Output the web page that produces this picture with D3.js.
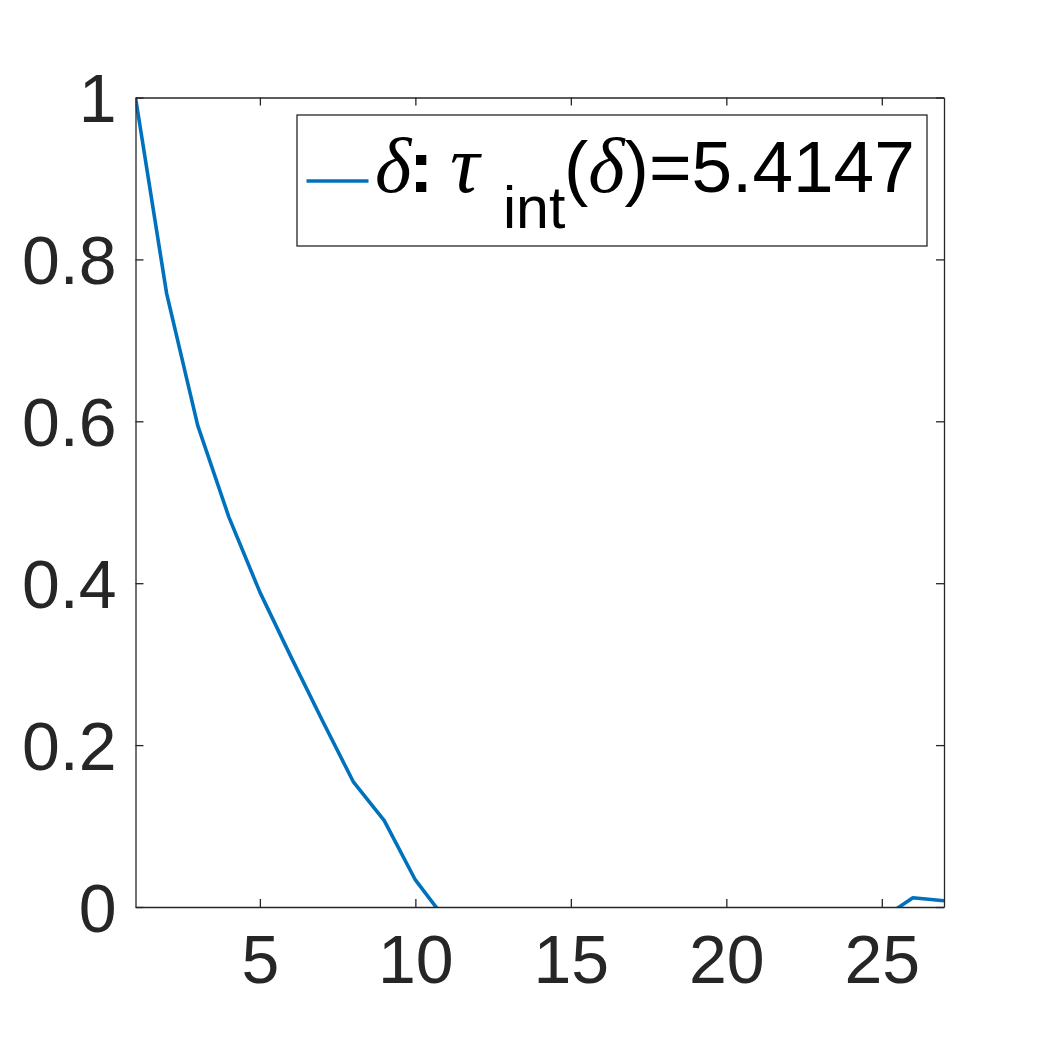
<!DOCTYPE html>
<html>
<head>
<meta charset="utf-8">
<script src="https://cdn.jsdelivr.net/npm/d3@7"></script>
<style>
html,body{margin:0;padding:0;background:#fff;}
svg{display:block;}
</style>
</head>
<body>
<svg id="chart" width="1043" height="1042"></svg>
<script>
// Data
const lags = [1,2,3,4,5,6,7,8,9,10,11,12,13,14,15,16,17,18,19,20,21,22,23,24,25,26,27];
const acf  = [1.0,0.758,0.595,0.482,0.389,0.309,0.231,0.155,0.1066,0.0334,-0.017,-0.03,-0.04,-0.045,-0.05,-0.048,-0.045,-0.042,-0.04,-0.038,-0.035,-0.03,-0.025,-0.02,-0.0146,0.0115,0.0078];
const xTicks = [5,10,15,20,25];
const yTicks = [0,0.2,0.4,0.6,0.8,1];
const yTickLabels = ["0","0.2","0.4","0.6","0.8","1"];
const legendValue = "5.4147";

const W = 1043, H = 1042;
const m = {left:135.5, right:944, top:97.5, bottom:907};
const axisColor = "#262626";
const lineColor = "#0072BD";

const svg = d3.select("#chart");
const x = d3.scaleLinear().domain([1,27]).range([m.left, m.right]);
const y = d3.scaleLinear().domain([0,1]).range([m.bottom, m.top]);

svg.append("defs").append("clipPath").attr("id","clip")
  .append("rect").attr("x",m.left).attr("y",m.top-2)
  .attr("width",m.right-m.left).attr("height",m.bottom-m.top+2);

// Line
svg.append("path")
  .datum(lags.map((l,i)=>[l,acf[i]]))
  .attr("clip-path","url(#clip)")
  .attr("fill","none")
  .attr("stroke",lineColor)
  .attr("stroke-width",3.6)
  .attr("stroke-linejoin","round")
  .attr("d", d3.line().x(d=>x(d[0])).y(d=>y(d[1])));

const tickLen = 8;
const fontSans = "'Liberation Sans', Arial, Helvetica, sans-serif";

// Axes (MATLAB box style with inward ticks, mirrored)
const gB = svg.append("g").attr("transform",`translate(0,${m.bottom})`)
  .call(d3.axisBottom(x).tickValues(xTicks).tickSizeInner(-tickLen).tickSizeOuter(0).tickPadding(28).tickFormat(d3.format("d")));
const gT = svg.append("g").attr("transform",`translate(0,${m.top})`)
  .call(d3.axisTop(x).tickValues(xTicks).tickSizeInner(-tickLen).tickSizeOuter(0).tickFormat(""));
const gL = svg.append("g").attr("transform",`translate(${m.left},0)`)
  .call(d3.axisLeft(y).tickValues(yTicks).tickSizeInner(-tickLen).tickSizeOuter(0).tickPadding(19).tickFormat((d,i)=>yTickLabels[i]));
const gR = svg.append("g").attr("transform",`translate(${m.right},0)`)
  .call(d3.axisRight(y).tickValues(yTicks).tickSizeInner(-tickLen).tickSizeOuter(0).tickFormat(""));

[gB,gT,gL,gR].forEach(g=>{
  g.select(".domain").attr("stroke",axisColor).attr("stroke-width",1.3);
  g.selectAll(".tick line").attr("stroke",axisColor).attr("stroke-width",1.3);
  g.selectAll(".tick text").attr("fill",axisColor).style("font-family",fontSans).style("font-size","68px");
});
gB.selectAll(".tick text").attr("dy","0.71em");
gL.selectAll(".tick text").attr("dy","0.36em");

// Legend
const lg = svg.append("g");
lg.append("rect").attr("x",297).attr("y",115).attr("width",630).attr("height",131)
  .attr("fill","#fff").attr("stroke",axisColor).attr("stroke-width",1.3);
lg.append("line").attr("x1",306.5).attr("x2",368.5).attr("y1",181).attr("y2",181)
  .attr("stroke",lineColor).attr("stroke-width",3.6);

const serif = "'Liberation Serif', 'Times New Roman', serif";
const t = lg.append("text").attr("y",192).attr("fill","#000").style("font-family",fontSans).style("font-size","73px");
t.append("tspan").attr("x",375).style("font-family",serif).style("font-style","italic").style("font-size","78px").text("δ");
t.append("tspan").attr("x",409).style("font-weight","bold").text(":");
t.append("tspan").attr("x",450).style("font-family",serif).style("font-style","italic").style("font-size","82px").text("τ");
t.append("tspan").attr("x",503).attr("y",228).style("font-size","59px").text("int");
t.append("tspan").attr("x",564).attr("y",192).text("(");
t.append("tspan").style("font-family",serif).style("font-style","italic").style("font-size","78px").text("δ");
t.append("tspan").text(")=" + legendValue);
</script>
</body>
</html>
